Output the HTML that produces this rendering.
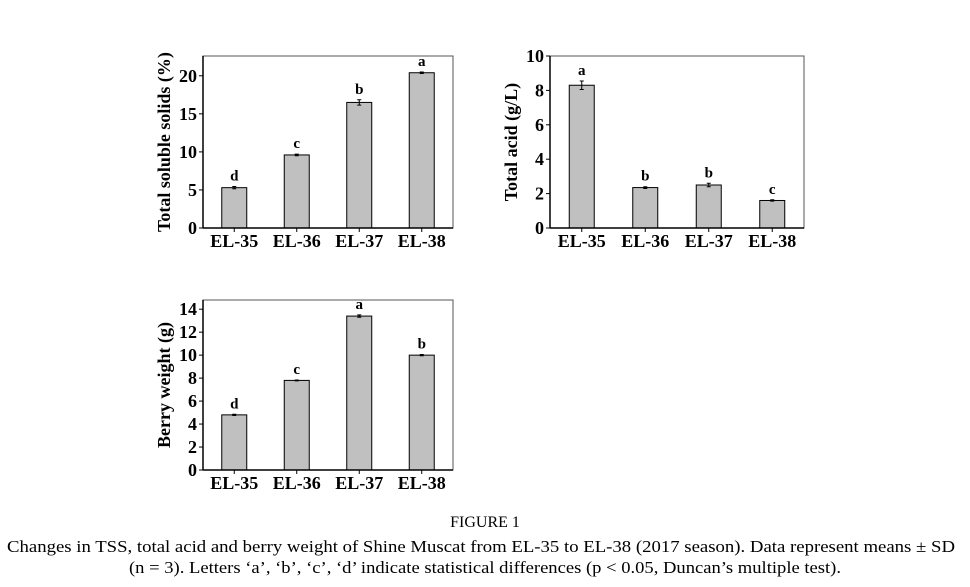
<!DOCTYPE html>
<html><head><meta charset="utf-8"><style>
html,body{margin:0;padding:0;background:#fff;}
svg{display:block;font-family:"Liberation Serif",serif;}
</style></head><body>
<svg id="fig" width="970" height="587" viewBox="0 0 970 587">
<g id="charts"></g>
<text x="485" y="527" text-anchor="middle" font-size="16" font-family="Liberation Serif, serif">FIGURE 1</text>
<text x="481" y="552" text-anchor="middle" font-size="17" font-family="Liberation Serif, serif" textLength="948" lengthAdjust="spacingAndGlyphs">Changes in TSS, total acid and berry weight of Shine Muscat from EL-35 to EL-38 (2017 season). Data represent means ± SD</text>
<text x="485" y="573" text-anchor="middle" font-size="17" font-family="Liberation Serif, serif" textLength="712" lengthAdjust="spacingAndGlyphs">(n = 3). Letters ‘a’, ‘b’, ‘c’, ‘d’ indicate statistical differences (p &lt; 0.05, Duncan’s multiple test).</text>
</svg>
<script>
const categories = ["EL-35","EL-36","EL-37","EL-38"];
const tssValues = [5.3, 9.6, 16.5, 20.4];
const tssErrors = [0.15, 0.1, 0.35, 0.1];
const tssLetters = ["d","c","b","a"];
const tssTicks = [0,5,10,15,20];
const acidValues = [8.3, 2.35, 2.5, 1.6];
const acidErrors = [0.25, 0.05, 0.1, 0.04];
const acidLetters = ["a","b","b","c"];
const acidTicks = [0,2,4,6,8,10];
const weightValues = [4.8, 7.8, 13.4, 10.0];
const weightErrors = [0.05, 0.04, 0.1, 0.05];
const weightLetters = ["d","c","a","b"];
const weightTicks = [0,2,4,6,8,10,12,14];

const NS = "http://www.w3.org/2000/svg";
const root = document.getElementById("charts");
function mk(tag, attrs, parent) {
  const e = document.createElementNS(NS, tag);
  for (const k in attrs) e.setAttribute(k, attrs[k]);
  parent.appendChild(e);
  return e;
}
function chart(name, box, ymax, values, errors, letters, ticks, title) {
  const g = mk("g", {}, root);
  
  
  const yScale = v => box.b - (v / ymax) * (box.b - box.t);
  const step = (box.r - box.l) / categories.length;
  const xScale = i => box.l + step * (i + 0.5);
  const bw = 25;
  values.forEach((v, i) => {
    const x = xScale(i), y = yScale(v);
    const bar = mk("rect", {x: x - bw/2, y: y, width: bw, height: box.b - y, fill: "#c0c0c0", stroke: "#000", "stroke-width": 1}, g);
    
    
    const e = errors[i];
    const y1 = yScale(v + e), y2 = yScale(v - e);
    const eb = mk("path", {d: `M${x},${y1}V${y2}M${x-2},${y1}H${x+2}M${x-2},${y2}H${x+2}`, stroke: "#000", "stroke-width": 1, fill: "none"}, g);
    
    
    const lt = mk("text", {x: x, y: y1 - 6, "text-anchor": "middle", "font-size": 15, "font-weight": "bold"}, g);
    lt.textContent = letters[i];
    
    
    const xl = mk("text", {x: x, y: box.b + 19, "text-anchor": "middle", "font-size": 18, "font-weight": "bold"}, g);
    xl.textContent = categories[i];
    
    
  });
  const frame = mk("rect", {x: box.l, y: box.t, width: box.r - box.l, height: box.b - box.t, fill: "none", stroke: "#555", "stroke-width": 1}, g);
  
  
  mk("line", {x1: box.l, y1: box.t, x2: box.l, y2: box.b, stroke: "#000", "stroke-width": 1.5}, g);
  mk("line", {x1: box.l, y1: box.b, x2: box.r, y2: box.b, stroke: "#000", "stroke-width": 1.5}, g);
  ticks.forEach(t => {
    const y = yScale(t);
    mk("line", {x1: box.l - 4, y1: y, x2: box.l, y2: y, stroke: "#000", "stroke-width": 1}, g);
    const tl = mk("text", {x: box.l - 6, y: y + 6, "text-anchor": "end", "font-size": 18, "font-weight": "bold"}, g);
    tl.textContent = t;
    
    
  });
  categories.forEach((c, i) => {
    mk("line", {x1: xScale(i), y1: box.b, x2: xScale(i), y2: box.b + 4, stroke: "#000", "stroke-width": 1}, g);
  });
  const cy = (box.t + box.b) / 2;
  const yt = mk("text", {x: box.l - 33, y: cy, "text-anchor": "middle", "font-size": 18, "font-weight": "bold", transform: `rotate(-90 ${box.l - 33} ${cy})`}, g);
  yt.textContent = title;
  
  
}
chart("tss-chart", {l: 203, r: 453, t: 56, b: 228}, 22.6, tssValues, tssErrors, tssLetters, tssTicks, "Total soluble solids (%)");
chart("acid-chart", {l: 550, r: 804, t: 56, b: 228}, 10, acidValues, acidErrors, acidLetters, acidTicks, "Total acid (g/L)");
chart("weight-chart", {l: 203, r: 453, t: 300, b: 470}, 14.8, weightValues, weightErrors, weightLetters, weightTicks, "Berry weight (g)");
</script>
</body></html>
